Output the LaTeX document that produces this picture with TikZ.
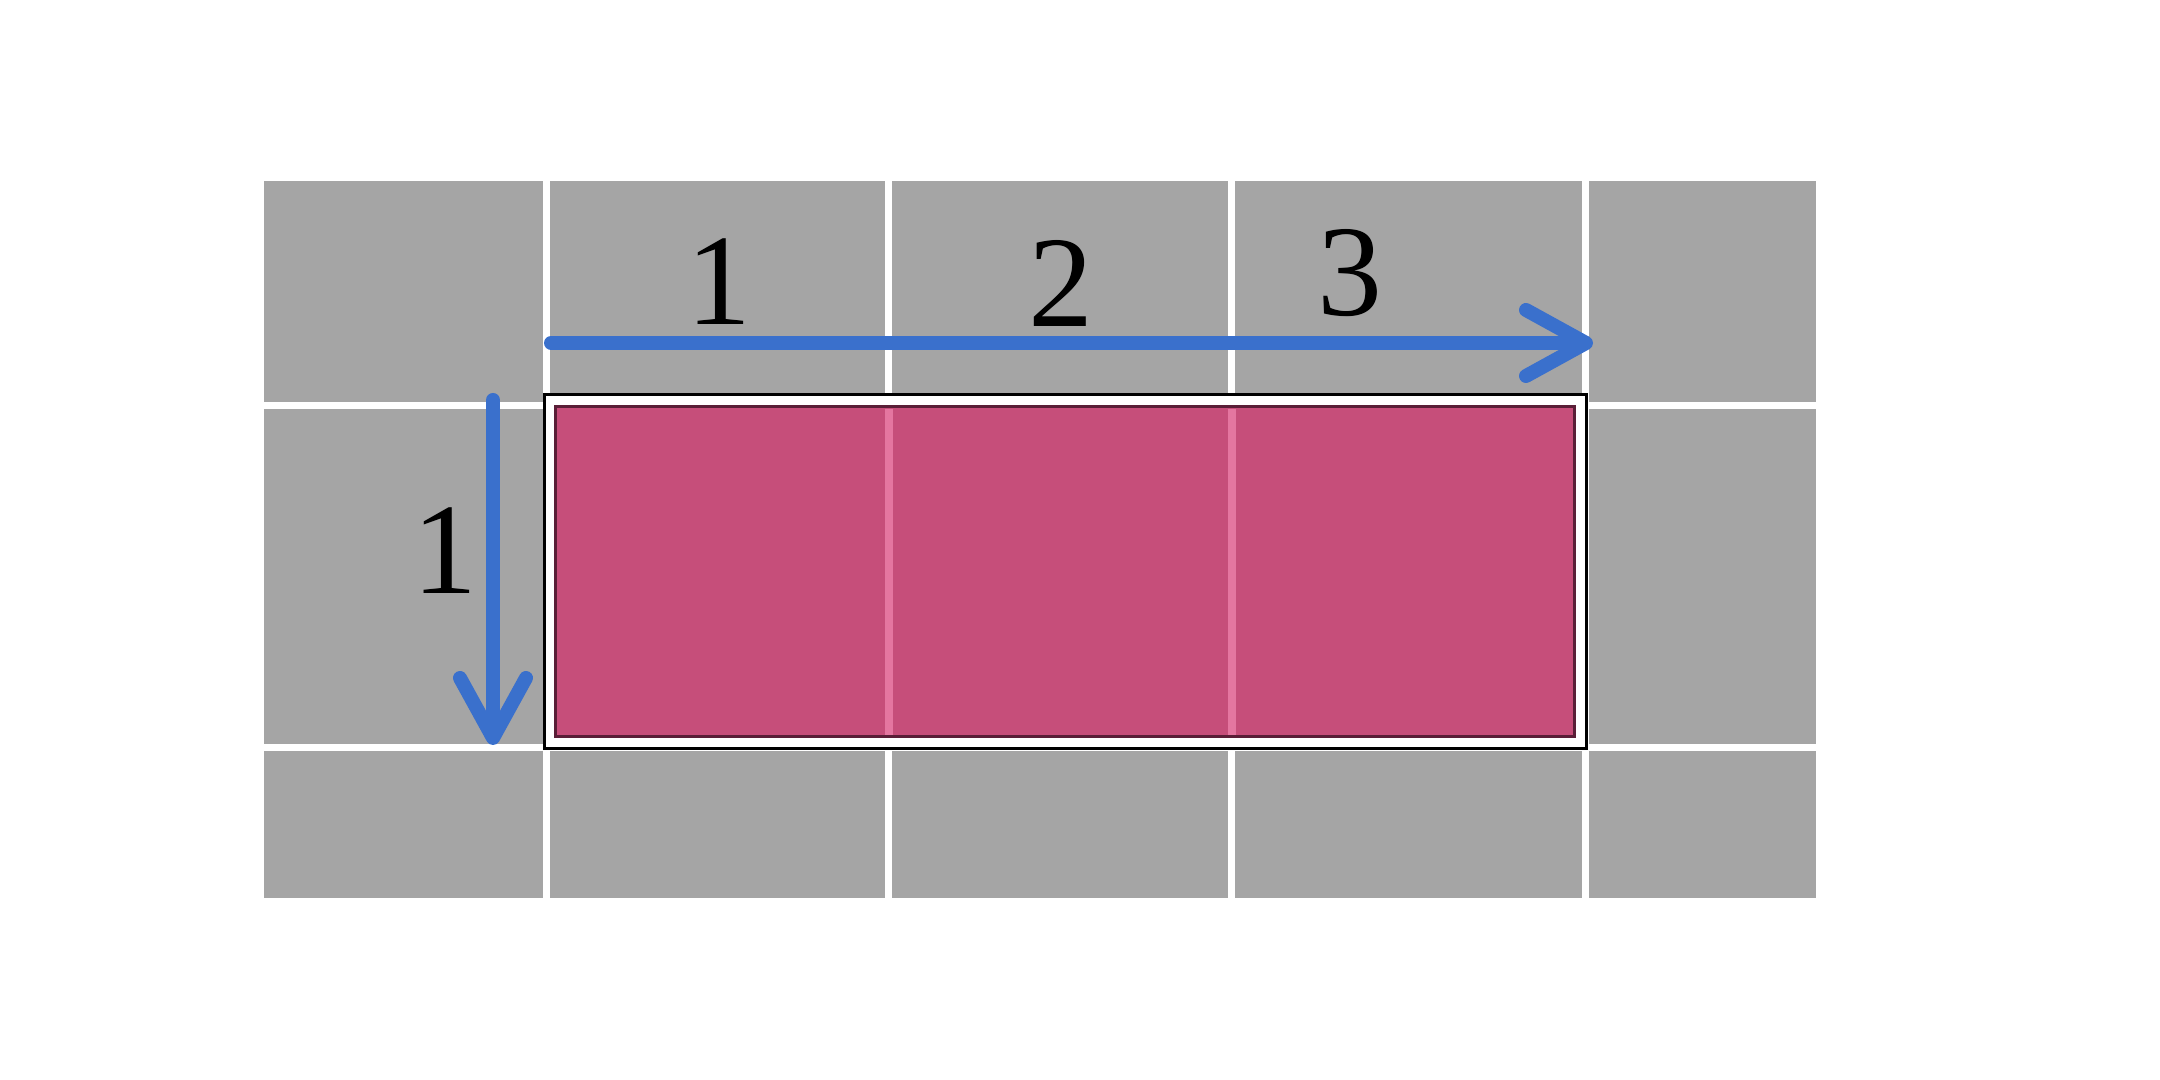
\documentclass[tikz,border=0pt]{standalone}
\usepackage{fontspec}
\setmainfont{Liberation Serif}
\usepackage[outline]{contour}
\contourlength{1.2pt}
\usetikzlibrary{arrows.meta}
\definecolor{cellgray}{RGB}{165,165,165}
\definecolor{boxpink}{RGB}{198,78,122}
\definecolor{boxedge}{RGB}{90,30,55}
\definecolor{seampink}{RGB}{228,118,160}
\definecolor{arrowblue}{RGB}{58,112,204}
\tikzset{
  gridline/.style={white, line width=0.07cm},
  seam/.style={seampink, line width=0.08cm},
  arrowline/.style={arrowblue, line width=0.14cm, line cap=round,
    -{Straight Barb[length=0.6cm, width=0.66cm, line cap=round, line join=round]}},
  digit/.style={font=\fontsize{37}{40}\selectfont, inner sep=0pt}
}
\begin{document}
\begin{tikzpicture}
\useasboundingbox (0,0) rectangle (21.6,10.8);
% gray background
\fill[cellgray] (2.64,1.82) rectangle (18.16,8.99);
% grid lines
\foreach \x in {5.46,8.885,12.315,15.855}
  \draw[gridline] (\x,1.82) -- (\x,8.99);
\foreach \y in {6.74,3.32}
  \draw[gridline] (2.64,\y) -- (18.16,\y);
% box
\draw[black, line width=0.03cm, fill=white] (5.44,3.31) rectangle (15.86,6.85);
\draw[boxedge, line width=0.03cm, fill=boxpink] (5.55,3.43) rectangle (15.74,6.73);
\foreach \x in {8.885,12.315}
  \draw[seam] (\x,3.45) -- (\x,6.71);
% arrows
\coordinate (hs) at (5.51,7.37);
\coordinate (he) at (15.93,7.37);
\coordinate (vs) at (4.93,6.80);
\coordinate (ve) at (4.93,3.35);
\draw[arrowline] (hs) -- (he);
\draw[arrowline] (vs) -- (ve);
% labels
\node[digit] (l1) at (7.19,7.98) {\contour{white}{1}};
\node[digit] (l2) at (10.61,7.97) {\contour{white}{2}};
\node[digit] (l3) at (13.50,8.07) {\contour{white}{3}};
\node[digit] (lv) at (4.45,5.29) {\contour{white}{1}};
\end{tikzpicture}
\end{document}
